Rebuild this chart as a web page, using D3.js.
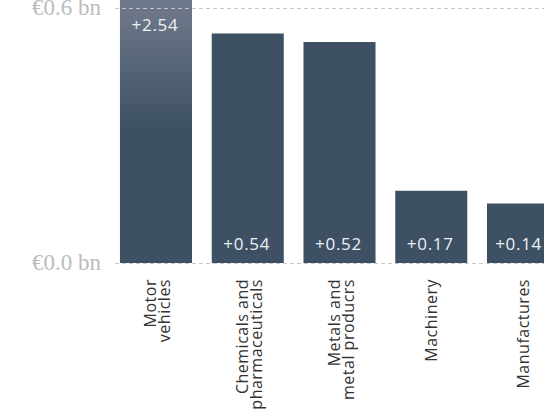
<!DOCTYPE html>
<html><head><meta charset="utf-8">
<script src="https://cdn.jsdelivr.net/npm/d3@7"></script>
<style>html,body{margin:0;padding:0;background:#fff;overflow:hidden}</style>
</head><body>
<svg id="c" width="544" height="412"></svg>
<script>
const categories = ["Motor\nvehicles", "Chemicals and\npharmaceuticals", "Metals and\nmetal producrs", "Machinery", "Manufactures"];
const values = [2.54, 0.54, 0.52, 0.17, 0.14];
const labels = ["+2.54", "+0.54", "+0.52", "+0.17", "+0.14"];
const yTicks = [0, 0.6];
const yTickLabels = ["€0.0 bn", "€0.6 bn"];

const svg = d3.select("#c");
const x = d3.scaleBand().domain(categories).range([110.1, 568.9]).paddingInner(0.215).paddingOuter(0.1075);
const y = d3.scaleLinear().domain([0, 0.6]).range([263, 8]);

const defs = svg.append("defs");
const g = defs.append("linearGradient").attr("id","fade").attr("x1",0).attr("x2",0)
  .attr("gradientUnits","userSpaceOnUse").attr("y1",0).attr("y2",130);
g.append("stop").attr("offset",0).attr("stop-color","#717a8c");
g.append("stop").attr("offset",1).attr("stop-color","#3d5064");

// bars
svg.append("g").selectAll("rect").data(values).join("rect")
  .attr("x",(d,i)=>x(categories[i])).attr("width",x.bandwidth())
  .attr("y",d=>Math.max(-5,y(d))).attr("height",d=>y(0)-Math.max(-5,y(d)))
  .attr("fill",(d,i)=> y(d) < 0 ? "url(#fade)" : "#3d5064");

// gridlines
svg.append("g").selectAll("line").data(yTicks).join("line")
  .attr("x1",115).attr("x2",544).attr("y1",d=>y(d)+0.5).attr("y2",d=>y(d)+0.5)
  .attr("stroke","#c8c8c8").attr("stroke-width",1).attr("stroke-dasharray","4,3");

svg.append("g").selectAll("text").data(yTicks).join("text")
  .attr("x",101).attr("y",d=>y(d)).attr("dy","0.32em").attr("text-anchor","end")
  .attr("font-family","'Liberation Serif', Georgia, serif").attr("font-size",23).attr("fill","#bcbcbc")
  .text((d,i)=>yTickLabels[i]);

// value labels
svg.append("g").selectAll("text").data(values).join("text")
  .attr("x",(d,i)=>x(categories[i])+x.bandwidth()/2 - 1)
  .attr("y",d=> y(d) < 0 ? 31 : 250)
  .attr("text-anchor","middle").attr("font-family","'Open Sans', sans-serif").attr("font-size",17)
  .attr("letter-spacing",0.7)
  .attr("fill","#eef1f4").text((d,i)=>labels[i])
  .each(function(){
    const b = this.getBBox();
    const over = b.x + b.width - 542;
    if (over > 0) d3.select(this).attr("x", +d3.select(this).attr("x") - over);
  });

// category labels
const cg = svg.append("g");
categories.forEach((c,i)=>{
  const lines = c.split("\n");
  const cx = x(c)+x.bandwidth()/2;
  const t = cg.append("text")
    .attr("transform",`translate(${cx},279) rotate(-90)`)
    .attr("text-anchor","end").attr("font-family","'Open Sans', sans-serif").attr("font-size",16)
    .attr("letter-spacing",0.5).attr("fill","#333");
  lines.forEach((l,j)=>{
    t.append("tspan").attr("x",0).attr("y", 6 + (j-(lines.length-1)/2)*14 + (lines.length>1?1:0)).text(l);
  });
});
</script>
</body></html>
